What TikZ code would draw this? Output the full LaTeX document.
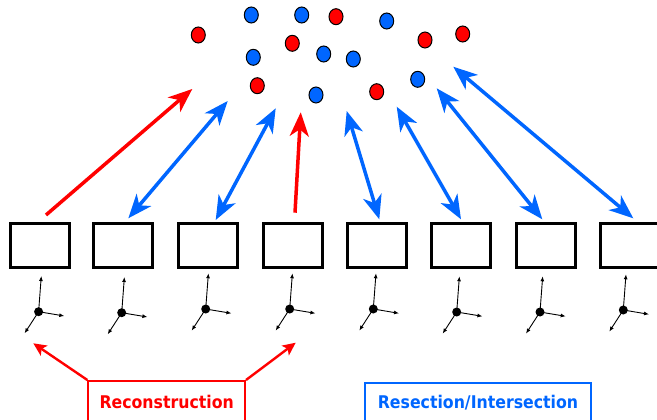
\documentclass[tikz,border=0pt]{standalone}
\usepackage{fontspec}
\newfontfamily\labfont{DejaVu Sans Condensed Bold}
\usetikzlibrary{arrows.meta,shapes.geometric}
\definecolor{myred}{HTML}{FF0000}
\definecolor{myblue}{HTML}{0066FF}
\begin{document}
\begin{tikzpicture}[x=1pt,y=-1pt,
  cam/.style={draw=black,line width=3pt,minimum width=59pt,minimum height=44.3pt,inner sep=0pt},
  pt/.style={ellipse,draw=black,line width=1pt,minimum width=14pt,minimum height=16pt,inner sep=0pt},
  rp/.style={pt,fill=myred},
  bp/.style={pt,fill=myblue},
  bigtip/.tip={Stealth[length=24pt,width=19pt,inset=7pt]},
  recon/.style={myred,line width=3.5pt,-bigtip},
  resec/.style={myblue,line width=3.5pt,bigtip-bigtip},
  ax/.style={line width=0.9pt,-{Latex[length=5pt,width=4pt]}},
  orig/.style={circle,fill=black,minimum size=9pt,inner sep=0pt},
  lab/.style={draw,line width=2pt,inner sep=0pt,minimum height=44pt,
    font=\labfont\fontsize{17.5}{20}\selectfont},
  labarrow/.style={line width=2.4pt,-{Stealth[length=13pt,width=12pt,inset=3pt]}}
]
\useasboundingbox (0,0) rectangle (657,420);

% cameras and axes
\foreach \i/\cx/\ox/\oy in {1/39.7/38.6/311.7,2/123.3/121.7/312.7,3/208/205.7/309,4/292.5/289.7/309,
  5/377/373.3/309,6/461/456.7/312,7/545.5/540/312,8/629.7/623.3/310}{
  \node[cam] (c\i) at (\cx,245.7) {};
  \coordinate (o\i) at (\ox,\oy);
  \path (o\i) ++(2.7,-35.7) coordinate (u\i);
  \path (o\i) ++(25.7,4.3) coordinate (r\i);
  \path (o\i) ++(-14,21.6) coordinate (l\i);
  \draw[ax] (o\i) -- (u\i);
  \draw[ax] (o\i) -- (r\i);
  \draw[ax] (o\i) -- (l\i);
  \node[orig] (p\i) at (o\i) {};
}

% 3D points
\node[rp] (d1) at (198.3,35) {};
\node[bp] (d2) at (251.3,15) {};
\node[bp] (d3) at (301.7,15) {};
\node[rp] (d4) at (336,16.7) {};
\node[bp] (d5) at (386.7,21) {};
\node[rp] (d6) at (425,40) {};
\node[rp] (d7) at (462.7,34) {};
\node[rp] (d8) at (292.3,43.3) {};
\node[bp] (d9) at (253.3,57.3) {};
\node[bp] (d10) at (323.7,54) {};
\node[bp] (d11) at (353.3,59) {};
\node[rp] (d12) at (257.3,85.7) {};
\node[bp] (d13) at (316,95) {};
\node[rp] (d14) at (376.7,91.7) {};
\node[bp] (d15) at (417.7,79.3) {};

% arrow ends
\coordinate (a1s) at (46,215);     \coordinate (a1e) at (192.3,89);
\coordinate (a2s) at (128.3,218.3); \coordinate (a2e) at (227.7,101);
\coordinate (a3s) at (215.7,220);  \coordinate (a3e) at (275.7,108.3);
\coordinate (a4s) at (295,212.7);  \coordinate (a4e) at (300.7,112.3);
\coordinate (a5s) at (379.3,219.3); \coordinate (a5e) at (346.7,111);
\coordinate (a6s) at (461,219.3);  \coordinate (a6e) at (396.7,106.7);
\coordinate (a7s) at (542.3,219.3); \coordinate (a7e) at (436.7,88.3);
\coordinate (a8s) at (633.3,218.3); \coordinate (a8e) at (453.3,66.7);

\draw[recon] (a1s) -- (a1e);
\draw[resec] (a2s) -- (a2e);
\draw[resec] (a3s) -- (a3e);
\draw[recon] (a4s) -- (a4e);
\draw[resec] (a5s) -- (a5e);
\draw[resec] (a6s) -- (a6e);
\draw[resec] (a7s) -- (a7e);
\draw[resec] (a8s) -- (a8e);

% labels
\node[lab,myred,minimum width=156.7pt,text height=14pt,text depth=4pt] (rec) at (166.7,403) {Reconstruction};
\node[lab,myblue,minimum width=225.4pt,text height=12pt,text depth=6.6pt] (res) at (478,405.3) {Resection/Intersection};
\coordinate (t1) at (33.3,343.3);
\coordinate (t2) at (295.7,342.7);
\draw[labarrow,myred] (rec.north west) -- (t1);
\draw[labarrow,myred] (rec.north east) -- (t2);
\end{tikzpicture}
\end{document}
